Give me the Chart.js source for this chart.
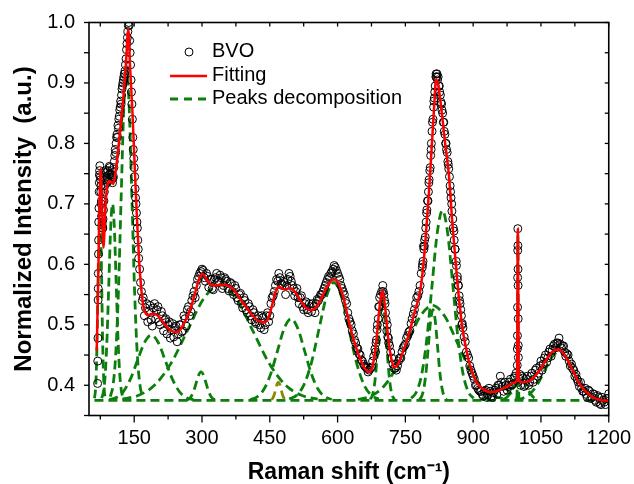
<!DOCTYPE html>
<html><head><meta charset="utf-8">
<script src="https://cdn.jsdelivr.net/npm/chart.js@4.4.0/dist/chart.umd.min.js"></script>
<style>html,body{margin:0;padding:0;background:#fff}</style>
</head><body>
<canvas id="c" width="634" height="484"></canvas>
<script>
// ---------- DATA ----------
const xTickStep = 75;           // Raman shift ticks (labels every 150)
const yTickStep = 0.05;         // intensity ticks (labels every 0.1)

// Measured BVO spectrum (open circles) - main pass
const bvoX = [
 69,69.4,69.8,70.2,70.6,71,71.5,72,72.5,73,
 74,75,76,77,78,79,80,81,82,
 84,86,88,90,92,94,96,98,100,
 102,104,106,108,110,112,114,116,118,120,
 122,124,126,128,130,132,134,136,138,
 139,140,141,142,143,144,145,146,147,148,149,150,
 151,152,153,154,155,156,157,158,159,160,
 162,164,166,168,
 170,175,180,185,190,195,200,205,210,215,
 220,225,230,235,240,245,250,255,260,265,
 270,275,280,285,290,295,300,305,310,315,
 320,325,330,335,340,345,350,355,360,365,
 370,375,380,385,390,395,400,405,410,415,
 420,425,430,435,440,445,450,455,460,465,
 470,475,480,485,490,495,500,505,510,515,
 520,525,530,535,540,545,550,555,560,565,
 570,575,580,585,590,595,600,605,610,615,
 620,625,630,635,640,645,650,655,660,665,
 670,675,680,685,690,695,700,705,710,715,
 720,725,730,735,740,745,750,755,760,765,
 770,775,780,785,790,795,800,805,810,815,
 820,825,830,835,840,845,850,855,860,865,
 870,875,880,885,890,895,900,905,910,915,
 920,925,930,935,940,945,950,955,960,965,
 970,975,980,985,990,995,
 997.6,997.8,998,998.2,998.4,998.6,998.8,999,999.2,999.4,999.6,999.8,1000,
 1003,
 1005,1010,1015,1020,1025,1030,1035,1040,1045,1050,
 1055,1060,1065,1070,1075,1080,1085,1090,1095,1100,
 1105,1110,1115,1120,1125,1130,1135,1140,1145,1150,
 1155,1160,1165,1170,1175,1180,1185,1190,1195,1200
];
const bvoY = [
 .403,.44,.478,.541,.585,.617,.67,.693,.72,.748,
 .763,.745,.72,.70,.68,.665,.66,.675,.69,
 .72,.74,.752,.735,.755,.748,.76,.74,.755,
 .735,.745,.77,.79,.80,.815,.83,.84,.855,.87,
 .88,.895,.905,.915,.92,.94,.965,.985,1.0,
 .995,.97,.95,.93,.905,.885,.865,.84,.81,.79,.775,.76,
 .745,.725,.71,.70,.685,.67,.66,.64,.625,.61,
 .592,.57,.555,.54,
 .545,.528,.505,.532,.498,.535,.525,.505,.522,.49,
 .51,.50,.478,.502,.495,.472,.50,.488,.515,.498,
 .53,.522,.548,.545,.575,.585,.592,.578,.585,.562,
 .575,.558,.578,.57,.582,.56,.578,.572,.556,.568,
 .55,.56,.54,.552,.528,.54,.52,.53,.508,.52,
 .502,.515,.495,.512,.50,.52,.515,.545,.555,.575,
 .585,.568,.572,.55,.575,.58,.565,.548,.56,.535,
 .548,.525,.538,.52,.53,.535,.52,.542,.545,.55,
 .56,.57,.58,.585,.592,.595,.585,.575,.56,.55,
 .535,.51,.50,.485,.47,.46,.45,.44,.432,.428,
 .425,.43,.448,.47,.51,.55,.565,.535,.50,.465,
 .445,.428,.425,.44,.445,.462,.468,.482,.49,.51,
 .525,.545,.555,.585,.63,.66,.705,.76,.835,.885,
 .915,.895,.865,.835,.80,.765,.72,.675,.625,.575,
 .54,.50,.48,.455,.445,.425,.415,.40,.395,.39,
 .385,.39,.38,.395,.382,.388,.395,.40,.415,.398,
 .405,.392,.405,.40,.412,.42,
 .433,.46,.482,.529,.578,.623,.659,.631,.592,.565,.51,.466,.446,
 .418,
 .40,.412,.40,.415,.405,.42,.41,.428,.42,.44,
 .435,.45,.445,.46,.458,.468,.47,.478,.462,.465,
 .448,.45,.432,.428,.415,.41,.398,.395,.39,.385,
 .392,.378,.386,.375,.383,.37,.38,.372,.378,.386
];
// BVO - interleaved readings
const bvoX2 = [
 172.5,177.5,182.5,187.5,192.5,197.5,202.5,207.5,212.5,217.5,
 222.5,227.5,232.5,237.5,242.5,247.5,252.5,257.5,262.5,267.5,
 272.5,277.5,282.5,287.5,292.5,297.5,302.5,307.5,312.5,317.5,
 322.5,327.5,332.5,337.5,342.5,347.5,352.5,357.5,362.5,367.5,
 372.5,377.5,382.5,387.5,392.5,397.5,402.5,407.5,412.5,417.5,
 422.5,427.5,432.5,437.5,442.5,447.5,452.5,457.5,462.5,467.5,
 472.5,477.5,482.5,487.5,492.5,497.5,502.5,507.5,512.5,517.5,
 522.5,527.5,532.5,537.5,542.5,547.5,552.5,557.5,562.5,567.5,
 572.5,577.5,582.5,587.5,592.5,597.5,602.5,607.5,612.5,617.5,
 622.5,627.5,632.5,637.5,642.5,647.5,652.5,657.5,662.5,667.5,
 672.5,677.5,682.5,687.5,692.5,697.5,702.5,707.5,712.5,717.5,
 722.5,727.5,732.5,737.5,742.5,747.5,752.5,757.5,762.5,767.5,
 772.5,777.5,782.5,787.5,792.5,797.5,802.5,807.5,812.5,817.5,
 822.5,827.5,832.5,837.5,842.5,847.5,852.5,857.5,862.5,867.5,
 872.5,877.5,882.5,887.5,892.5,897.5,902.5,907.5,912.5,917.5,
 922.5,927.5,932.5,937.5,942.5,947.5,952.5,957.5,962.5,967.5,
 972.5,977.5,982.5,987.5,992.5,
 1002.5,1007.5,1012.5,1017.5,1022.5,1027.5,1032.5,1037.5,1042.5,1047.5,
 1052.5,1057.5,1062.5,1067.5,1072.5,1077.5,1082.5,1087.5,1092.5,1097.5,
 1102.5,1107.5,1112.5,1117.5,1122.5,1127.5,1132.5,1137.5,1142.5,1147.5,
 1152.5,1157.5,1162.5,1167.5,1172.5,1177.5,1182.5,1187.5,1192.5,1197.5
];
const bvoY2 = [
 .515,.535,.522,.508,.528,.51,.53,.50,.515,.508,
 .485,.505,.492,.48,.498,.485,.50,.49,.51,.525,
 .515,.54,.555,.565,.58,.588,.59,.572,.58,.575,
 .56,.575,.585,.572,.578,.565,.575,.56,.57,.555,
 .565,.545,.55,.535,.545,.525,.535,.515,.525,.505,
 .51,.50,.515,.492,.515,.505,.535,.548,.565,.572,
 .578,.565,.57,.565,.585,.572,.56,.555,.545,.545,
 .53,.535,.525,.535,.522,.53,.535,.54,.55,.555,
 .565,.575,.578,.588,.598,.59,.58,.565,.555,.54,
 .52,.505,.49,.475,.462,.452,.442,.435,.43,.422,
 .428,.44,.46,.492,.53,.555,.55,.508,.478,.455,
 .435,.428,.432,.445,.455,.465,.478,.488,.502,.518,
 .535,.548,.565,.595,.64,.69,.74,.80,.86,.91,
 .91,.88,.85,.815,.785,.745,.70,.655,.605,.565,
 .525,.495,.472,.45,.432,.42,.41,.40,.392,.39,
 .382,.392,.384,.39,.38,.392,.385,.40,.405,.39,
 .40,.398,.41,.402,.415,
 .41,.415,.398,.41,.40,.415,.405,.425,.415,.432,
 .425,.445,.438,.455,.448,.465,.462,.47,.468,.465,
 .455,.452,.44,.435,.425,.418,.405,.405,.39,.395,
 .38,.39,.38,.385,.372,.38,.368,.375,.368,.378
];
// BVO - extra readings on the steep flanks
const bvoX3 = [
 70.4,71.2,72.8,73.5,75.5,76.5,77.5,78.5,79.5,80.5,
 83,85,87,89,91,93,95,97,99,101,
 103,105,107,109,111,113,115,117,119,121,
 123,125,127,129,131,133,135,137,
 684,686,688,691,693,701,704,706,709,711,713,
 788,789,791,792,794,796,797,799,801,802,
 804,806,807,809,811,813,814,816,818,819,
 821,824,826,829,831,834,836,839,841,844,
 846,849,851,853,856,858,860,863,865,867,
 869,871,874,876
];
const bvoY3 = [
 .56,.64,.735,.755,.74,.73,.705,.675,.67,.66,
 .705,.73,.755,.745,.742,.738,.762,.75,.748,.745,
 .742,.76,.78,.785,.81,.81,.825,.845,.86,.865,
 .89,.90,.91,.915,.93,.955,.975,.995,
 .455,.475,.50,.53,.545,.555,.54,.52,.49,.48,.47,
 .60,.605,.625,.63,.645,.67,.685,.705,.72,.735,
 .755,.78,.79,.82,.84,.87,.875,.895,.915,.91,
 .905,.895,.885,.868,.855,.835,.82,.80,.79,.77,
 .758,.73,.71,.688,.66,.64,.625,.598,.58,.565,
 .548,.535,.515,.502
];

// Fitted curve (red)
const fitX = [
 67,70,72,74,76,79,82,86,90,95,
 100,104,110,116,122,127,132,137,141,146,
 151,156,161,166,170,174,180,188,196,205,
 215,225,235,243,252,262,272,282,290,296,
 300,305,312,320,330,340,350,360,370,380,
 390,400,410,420,430,438,446,455,463,470,
 478,485,493,500,510,520,530,541,550,560,
 570,580,590,595,602,612,622,632,642,652,
 662,670,678,686,693,699,705,712,720,727,
 735,745,758,770,783,790,795,802,808,814,
 818,823,830,838,846,854,861,868,876,884,
 890,898,905,915,925,935,946,958,970,980,
 990,997,998.9,1000.8,1008,1020,1030,1040,1050,1060,
 1070,1080,1089,1098,1108,1118,1126,1135,1145,1155,
 1165,1175,1185,1192,1200
];
const fitY = [
 .457,.56,.65,.72,.758,.69,.628,.69,.728,.738,
 .735,.733,.76,.80,.845,.885,.935,.989,.925,.854,
 .765,.678,.605,.557,.532,.521,.516,.518,.518,.513,
 .503,.494,.489,.488,.492,.505,.522,.545,.567,.580,
 .584,.582,.573,.566,.565,.566,.566,.564,.558,.548,
 .537,.527,.517,.509,.505,.504,.510,.532,.555,.563,
 .560,.558,.561,.559,.550,.538,.528,.524,.527,.538,
 .553,.567,.575,.575,.568,.548,.515,.485,.460,.440,
 .426,.422,.433,.475,.530,.557,.530,.478,.440,.430,
 .437,.456,.485,.520,.557,.600,.645,.717,.790,.865,
 .906,.895,.855,.800,.750,.668,.606,.548,.496,.462,
 .441,.422,.408,.398,.392,.389,.389,.392,.396,.400,
 .404,.408,.659,.408,.405,.406,.410,.418,.428,.440,
 .451,.458,.459,.454,.443,.428,.416,.403,.393,.386,
 .380,.377,.375,.375,.374
];

// Peaks decomposition (green dashed), baseline 0.375
const baseX = [62, 1200];
const baseY = [0.375, 0.375];
const p1x = [62,64,66,68,70,72,74,76,78,80,82,84,86];
const p1y = [.3786,.3893,.419,.4805,.5721,.6618,.70,.6618,.5721,.4805,.419,.3893,.3786];
const p2x = [78,82,86,90,94,98,102,106,110,114,118,122,126];
const p2y = [.3786,.3893,.419,.4805,.5721,.6618,.70,.6618,.5721,.4805,.419,.3893,.3786];
const p3x = [97,103,109,115,121,127,133,139,145,151,157,163,169];
const p3y = [.3811,.3991,.4491,.5529,.7074,.8586,.923,.8586,.7074,.5529,.4491,.3991,.3811];
const p4x = [95,110.5,126,141.5,157,172.5,188,203.5,219,234.5,250,265.5,281];
const p4y = [.3762,.3797,.3896,.4101,.4405,.4703,.483,.4703,.4405,.4101,.3896,.3797,.3762];
const p5x = [124,160,196,232,268,304,340,376,412,448,484,520,556];
const p5y = [.3771,.3834,.4008,.437,.4908,.5436,.566,.5436,.4908,.437,.4008,.3834,.3771];
const p6x = [265,270.5,276,281.5,287,292.5,298,303.5,309,314.5,320,325.5,331];
const p6y = [.3755,.3771,.3814,.3903,.4035,.4165,.422,.4165,.4035,.3903,.3814,.3771,.3755];
const p7x = [454,457,460,463,466,469,472,475,478,481,484];
const p7y = [.3763,.3791,.3847,.3932,.4015,.405,.4015,.3932,.3847,.3791,.3763];
const p8x = [407,422,437,452,467,482,497,512,527,542,557,572,587];
const p8y = [.3765,.3809,.3933,.4188,.4569,.4941,.51,.4941,.4569,.4188,.3933,.3809,.3765];
const p9x = [493,509.5,526,542.5,559,575.5,592,608.5,625,641.5,658,674.5,691];
const p9y = [.3772,.3836,.4014,.4383,.4933,.5469,.57,.5469,.4933,.4383,.4014,.3836,.3772];
const p10x = [672,676.5,681,685.5,690,694.5,699,703.5,708,712.5,717,721.5,726];
const p10y = [.3768,.3822,.3973,.4286,.4751,.5206,.54,.5206,.4751,.4286,.3973,.3822,.3768];
const p11x = [645,672.5,700,727.5,755,782.5,810,837.5,865,892.5,920,947.5,975];
const p11y = [.3767,.3819,.3962,.426,.4702,.5136,.532,.5136,.4702,.426,.3962,.3819,.3767];
const p12x = [763,774.5,786,797.5,809,820.5,832,843.5,855,866.5,878,889.5,901];
const p12y = [.3785,.3888,.4175,.477,.5654,.6521,.689,.6521,.5654,.477,.4175,.3888,.3785];
const p13x = [781,786,791,796,801,806,811,816,821,826,831,836,841];
const p13y = [.3767,.3816,.3953,.4237,.466,.5074,.525,.5074,.466,.4237,.3953,.3816,.3767];
const p14x = [918,927,936,945,954,963,972,981,990,999,1008];
const p14y = [.3759,.378,.3818,.3883,.3944,.397,.3944,.3883,.3818,.378,.3759];
const p15x = [996.9,997.6,997.95,998.3,998.65,999,999.35,999.7,1000.05,1000.4,1001.1];
const p15y = [.3781,.4122,.4643,.5418,.6177,.65,.6177,.5418,.4643,.4122,.3781];
const p16x = [966.5,974,981.5,989,996.5,1004,1011.5,1019,1026.5,1034,1041.5];
const p16y = [.3765,.3797,.3864,.3962,.4059,.41,.4059,.3962,.3864,.3797,.3765];
const p17x = [994,1010,1026,1042,1058,1074,1090,1106,1122,1138,1154,1170,1186];
const p17y = [.3759,.3786,.386,.4013,.4241,.4465,.456,.4465,.4241,.4013,.386,.3786,.3759];

const legendLabels = ['BVO', 'Fitting', 'Peaks decomposition'];
const xTitle = 'Raman shift (cm\u207B\u00B9)';
const yTitle = 'Normalized Intensity  (a.u.)';

// ---------- CHART ----------
const FONT = '"Liberation Sans", Arial, Helvetica, sans-serif';
Chart.defaults.font.family = FONT;
Chart.defaults.color = '#000';

const xy = (xs, ys) => xs.map((x, i) => ({x: x, y: ys[i]}));
const GREEN = '#0b7f0b';
const OLIVE = '#8a8a00';

const peakList = [
  [p1x,p1y,GREEN],[p2x,p2y,GREEN],[p3x,p3y,GREEN],[p4x,p4y,GREEN],[p5x,p5y,GREEN],
  [p6x,p6y,GREEN],[p7x,p7y,OLIVE],[p8x,p8y,GREEN],[p9x,p9y,GREEN],[p10x,p10y,GREEN],
  [p11x,p11y,GREEN],[p12x,p12y,GREEN],[p13x,p13y,GREEN],[p14x,p14y,GREEN],[p15x,p15y,GREEN],
  [p16x,p16y,GREEN],[p17x,p17y,GREEN],[baseX,baseY,GREEN]
];

const bvoPoints = xy(bvoX, bvoY).concat(xy(bvoX2, bvoY2), xy(bvoX3, bvoY3));

const datasets = [
  { label: 'Fitting', data: xy(fitX, fitY), borderColor: '#ff0000', borderWidth: 2.5,
    pointRadius: 0, cubicInterpolationMode: 'monotone', fill: false },
  { label: 'BVO', data: bvoPoints, showLine: false, pointRadius: 4, pointStyle: 'circle',
    pointBorderColor: '#000', pointBackgroundColor: 'rgba(0,0,0,0)', pointBorderWidth: 1 }
].concat(peakList.map(p => ({
    label: 'Peaks decomposition', data: xy(p[0], p[1]), borderColor: p[2], borderWidth: 2.8,
    borderDash: [9, 5], pointRadius: 0, cubicInterpolationMode: 'monotone', fill: false
})));

const framePlugin = {
  id: 'frame',
  afterDraw(chart) {
    const {ctx, chartArea: a, scales: {x, y}} = chart;
    const seg = (x1, y1, x2, y2) => { ctx.beginPath(); ctx.moveTo(x1, y1); ctx.lineTo(x2, y2); ctx.stroke(); };
    ctx.save();
    ctx.strokeStyle = '#000';
    ctx.lineWidth = 1.6;
    ctx.strokeRect(a.left, a.top, a.right - a.left, a.bottom - a.top);
    ctx.lineWidth = 1.3;
    y.ticks.forEach(t => {
      const py = y.getPixelForValue(t.value);
      seg(a.left - 5, py, a.left, py);
      seg(a.right - 4, py, a.right, py);
    });
    x.ticks.forEach(t => {
      const px = x.getPixelForValue(t.value);
      const major = Math.round(t.value) % 150 === 0;
      seg(px, a.bottom, px, a.bottom + (major ? 7 : 4));
      seg(px, a.top, px, a.top + 4);
    });
    // legend
    ctx.font = '20px ' + FONT;
    ctx.fillStyle = '#000';
    ctx.textBaseline = 'middle';
    ctx.textAlign = 'left';
    ctx.lineWidth = 1;
    ctx.beginPath(); ctx.arc(189, 52, 4, 0, Math.PI * 2); ctx.stroke();
    ctx.fillText(legendLabels[0], 212, 51);
    ctx.strokeStyle = '#ff0000'; ctx.lineWidth = 2.5;
    seg(170, 76, 207, 76);
    ctx.fillText(legendLabels[1], 212, 75);
    ctx.strokeStyle = GREEN; ctx.lineWidth = 2.8; ctx.setLineDash([8, 6]);
    seg(170, 99, 207, 99);
    ctx.setLineDash([]);
    ctx.fillText(legendLabels[2], 212, 98);
    ctx.restore();
  }
};

new Chart(document.getElementById('c'), {
  type: 'line',
  data: { datasets: datasets },
  options: {
    responsive: false, animation: false, devicePixelRatio: 1,
    layout: { padding: { left: 0, right: 23, top: 22.5, bottom: 0 } },
    plugins: { legend: { display: false }, tooltip: { enabled: false } },
    scales: {
      x: {
        type: 'linear', min: 50, max: 1200,
        grid: { display: false }, border: { display: false },
        ticks: { stepSize: xTickStep, includeBounds: false, autoSkip: false, maxRotation: 0, minRotation: 0,
          padding: 3, color: '#000', font: { size: 20 },
          callback: v => (Math.round(v) % 150 === 0 ? String(Math.round(v)) : '') },
        title: { display: true, text: xTitle, color: '#000', font: { size: 23, weight: 'bold' }, padding: { top: 0, bottom: -2 } },
        afterFit: s => { s.height = 68.5; }
      },
      y: {
        type: 'linear', min: 0.35, max: 1.0,
        grid: { display: false }, border: { display: false },
        ticks: { stepSize: yTickStep, autoSkip: false, padding: 6, color: '#000', font: { size: 20 },
          callback: v => { const r = Math.round(v * 100); return r % 10 === 0 ? (r / 100).toFixed(1) : ''; } },
        title: { display: true, text: yTitle, color: '#000', font: { size: 24, weight: 'bold' }, padding: { top: 10, bottom: 0 } },
        afterFit: s => { s.width = 89; }
      }
    }
  },
  plugins: [framePlugin]
});
</script>
</body></html>
